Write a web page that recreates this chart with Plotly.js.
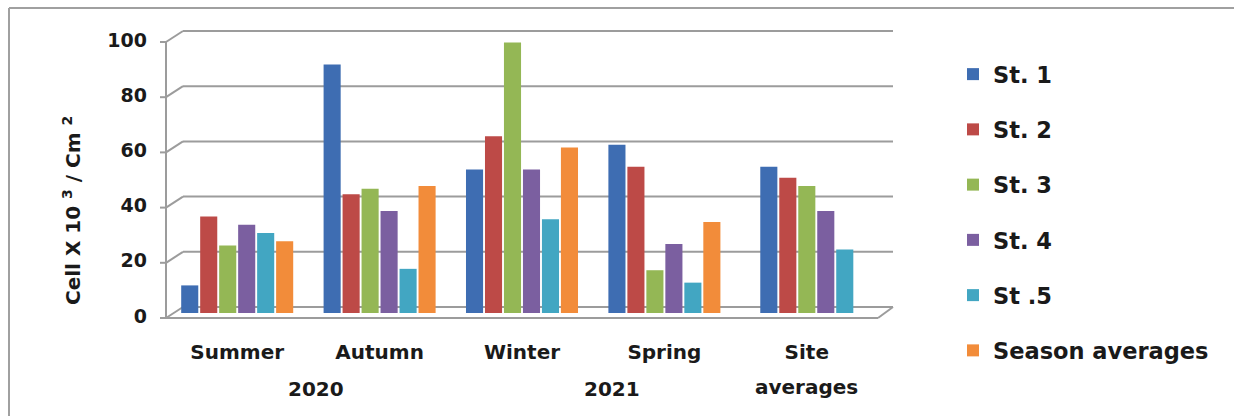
<!DOCTYPE html>
<html>
<head>
<meta charset="utf-8">
<script src="https://cdn.plot.ly/plotly-3.0.1.min.js"></script>
<style>
  html, body { margin: 0; padding: 0; background: #ffffff; }
  #chart { width: 1234px; height: 416px; }
</style>
</head>
<body>
<div id="chart"></div>
<script>
// ---- data ----
const categories = ['Summer', 'Autumn', 'Winter', 'Spring', 'Site averages'];
const categoryLabels = ['Summer', 'Autumn', 'Winter', 'Spring', 'Site'];
const categoryLabelsLine2 = [null, null, null, null, 'averages'];
const seriesNames = ['St. 1', 'St. 2', 'St. 3', 'St. 4', 'St .5', 'Season averages'];
const st1 = [10, 90, 52, 61, 53];
const st2 = [35, 43, 64, 53, 49];
const st3 = [24.5, 45, 98, 15.5, 46];
const st4 = [32, 37, 52, 25, 37];
const st5 = [29, 16, 34, 11, 23];
const seasonAvg = [26, 46, 60, 33, null];
const yearLabels = ['2020', '2021'];
const yTicks = [0, 20, 40, 60, 80, 100];
const yRange = [0, 100];

// ---- style ----
const colors = ['#3E6DB2', '#BD4A47', '#94B755', '#7B5FA0', '#42A6C2', '#F28C3A'];
const FONT = 'DejaVu Sans, Verdana, sans-serif';
const TXT = '#1a1a1a';
const GRID = '#9c9c9c';

const allSeries = [st1, st2, st3, st4, st5, seasonAvg];

// group layout: slots centred on the non-empty bars of each category
const groupWidth = 0.8;
const slot = groupWidth / allSeries.length;
const barW = slot * 0.9;

const traces = allSeries.map((vals, j) => {
  const offsets = vals.map((v, i) => {
    const n = allSeries.filter(s => s[i] !== null && s[i] !== undefined).length;
    let k = 0;
    for (let m = 0; m < j; m++) {
      const x = allSeries[m][i];
      if (x !== null && x !== undefined) k++;
    }
    return -n * slot / 2 + k * slot + (slot - barW) / 2;
  });
  return {
    type: 'bar',
    name: seriesNames[j],
    legendgroup: 'g' + j,
    x: categories,
    y: vals,
    offset: offsets,
    width: vals.map(() => barW),
    marker: { color: colors[j], line: { width: 0 } },
    hoverinfo: 'x+y+name'
  };
});

// ---- layout geometry ----
const W = 1234, H = 416;
const M = { l: 166, r: 356, t: 37, b: 103 };
const plotW = W - M.l - M.r, plotH = H - M.t - M.b;
const px = p => p / plotW;      // horizontal pixels -> paper
const py = p => p / plotH;      // vertical pixels -> paper
const yFrac = v => (v - yRange[0]) / (yRange[1] - yRange[0]);

// ---- 3-D frame made from shapes ----
const shapes = [];
const backDx = 17, backRightDx = 15, backDy = 6, frontDy = -5;
const line = (x0, y0, x1, y1, extra) => Object.assign({
  type: 'line', layer: 'below', xref: 'paper', yref: 'paper',
  x0, y0, x1, y1, line: { color: GRID, width: 2 } }, extra || {});
yTicks.forEach(v => {
  const f = yFrac(v);
  shapes.push(line(px(backDx), f + py(backDy), 1 + px(backRightDx), f + py(backDy)));
  shapes.push(line(0, f + py(frontDy), px(backDx), f + py(backDy)));
  shapes.push(line(px(-6), f + py(frontDy), 0, f + py(frontDy)));
});
// front vertical axis
shapes.push(line(0, yFrac(yRange[0]) + py(frontDy), 0, yFrac(yRange[1]) + py(frontDy)));
// floor front edge and right edge
shapes.push(line(0, py(frontDy), 1, py(frontDy)));
shapes.push(line(1, py(frontDy), 1 + px(backRightDx), py(backDy)));
// outer chart border (top and left)
shapes.push(line(px(9 - M.l), py(H - M.b - 8), 1.6, py(H - M.b - 8), { line: { color: '#a0a0a0', width: 2 } }));
shapes.push(line(px(9 - M.l), py(H - M.b - 8), px(9 - M.l), -0.5, { line: { color: '#a0a0a0', width: 2 } }));

const bold = (size) => ({ family: FONT, size: size, color: TXT, weight: 'bold' });
const annotations = [
  { text: 'Cell X 10 <sup>3</sup> / Cm <sup>2</sup>', textangle: -90,
    xref: 'paper', yref: 'paper', x: px(72 - M.l), y: py(H - M.b - 211), xanchor: 'center', yanchor: 'middle',
    showarrow: false, font: bold(20) },
  { text: yearLabels[0], xref: 'paper', yref: 'paper', x: px(316 - M.l), y: py(H - M.b - 389),
    xanchor: 'center', yanchor: 'middle', showarrow: false, font: bold(20) },
  { text: yearLabels[1], xref: 'paper', yref: 'paper', x: px(612 - M.l), y: py(H - M.b - 389),
    xanchor: 'center', yanchor: 'middle', showarrow: false, font: bold(20) }
];
categoryLabelsLine2.forEach((t, i) => {
  if (t) annotations.push({ text: t, xref: 'x', yref: 'paper', x: categories[i], y: py(H - M.b - 387),
    xanchor: 'center', yanchor: 'middle', showarrow: false, font: bold(20) });
});

const layout = {
  width: W, height: H,
  margin: M,
  paper_bgcolor: '#ffffff', plot_bgcolor: 'rgba(0,0,0,0)',
  barmode: 'overlay',
  showlegend: true,
  legend: {
    x: px(953 - M.l), xanchor: 'left', y: py(H - M.b - 53), yanchor: 'top',
    traceorder: 'grouped', tracegroupgap: 23, maxheight: 400,
    font: bold(22.5),
    bgcolor: 'rgba(0,0,0,0)'
  },
  xaxis: {
    type: 'category', tickvals: categories, ticktext: categoryLabels,
    showgrid: false, showline: false, zeroline: false, ticks: '',
    ticklabelstandoff: 25,
    tickfont: bold(20),
    range: [-0.5, categories.length - 0.5]
  },
  yaxis: {
    range: yRange, tickvals: yTicks, showgrid: false, zeroline: false, showline: false,
    ticks: '', ticklabelstandoff: 18, ticklabelshift: 3,
    tickfont: bold(19)
  },
  shapes: shapes,
  annotations: annotations
};

Plotly.newPlot('chart', traces, layout, { displayModeBar: false, staticPlot: true });
</script>
</body>
</html>
